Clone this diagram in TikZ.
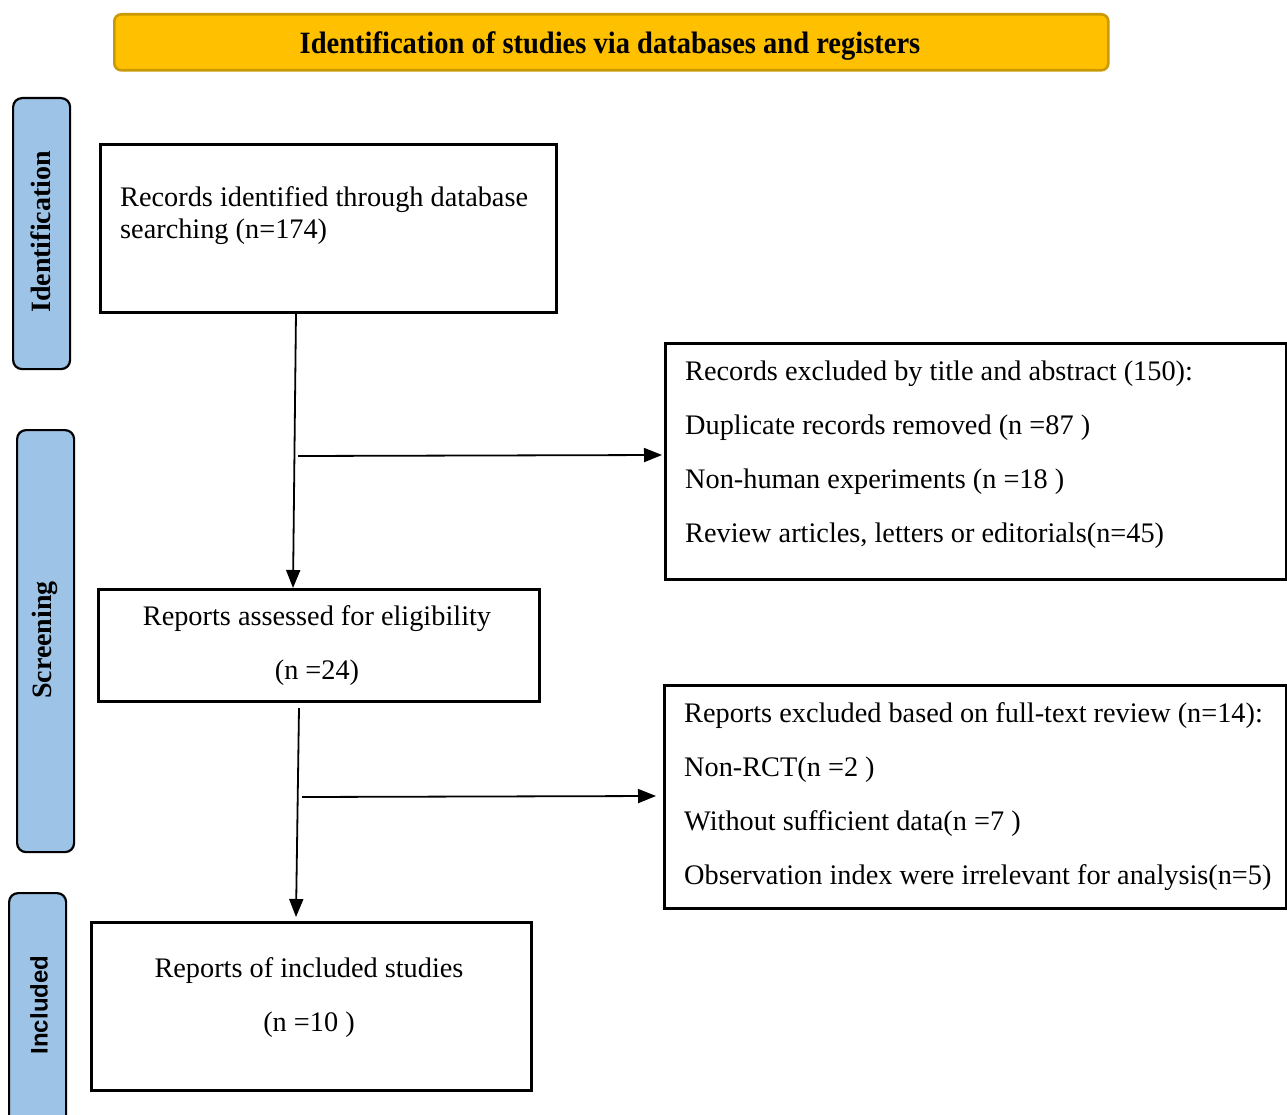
\documentclass[tikz,border=0pt]{standalone}
\usepackage{fontspec}
\setmainfont{Liberation Serif}
\newfontfamily\labsans{Liberation Sans}
\newfontfamily\bannerfont[FakeStretch=0.92]{Liberation Serif}
\usetikzlibrary{arrows.meta}
\definecolor{bannerfill}{HTML}{FFC000}
\definecolor{bannerdraw}{HTML}{C99A06}
\definecolor{sidefill}{HTML}{9DC3E6}
\tikzset{
  flowbox/.style={draw=black, line width=2.6pt, anchor=north west, inner sep=0pt, fill=white},
  sidebox/.style={draw=black, fill=sidefill, line width=2.2pt, rounded corners=9pt, anchor=north west, inner sep=0pt},
  txt/.style={anchor=base west, inner sep=0pt, font=\fontsize{28.3}{32}\selectfont},
  ctxt/.style={anchor=base, inner sep=0pt, font=\fontsize{28.3}{32}\selectfont},
  sidetxt/.style={rotate=90, inner sep=0pt, font=\bfseries\fontsize{28}{32}\selectfont},
  flow/.style={line width=1.8pt, -{Triangle[length=18pt,width=14pt]}},
}
\begin{document}
\begin{tikzpicture}[x=1pt,y=-1pt]
\useasboundingbox[fill=white] (0,0) rectangle (1287,1115);
\clip (0,0) rectangle (1287,1115);

% banner
\node[draw=bannerdraw, fill=bannerfill, line width=2.6pt, rounded corners=7pt,
      anchor=north west, inner sep=0pt, minimum width=994pt, minimum height=56pt] (banner) at (113,13) {};
\node[anchor=base, inner sep=0pt, font=\bannerfont\bfseries\fontsize{31}{34}\selectfont] (bannertxt) at (610,54)
  {Identification of studies via databases and registers};

% side labels
\node[sidebox, minimum width=57pt, minimum height=271pt] (sideid) at (12,97) {};
\node[sidetxt] (sideidtxt) at (41,232) {Identification};
\node[sidebox, minimum width=57pt, minimum height=422pt] (sidescr) at (16,429) {};
\node[sidetxt] (sidescrtxt) at (45,640) {Screening};
\node[sidebox, minimum width=57pt, minimum height=260pt] (sideinc) at (8,892) {};
\node[rotate=90, inner sep=0pt, font=\labsans\bfseries\fontsize{24}{28}\selectfont] (sideinctxt) at (39,1005) {Included};

% main boxes
\node[flowbox, minimum width=456pt, minimum height=168pt] (b1) at (99,143) {};
\node[txt] (b1l1) at (120,207) {Records identified through database};
\node[txt] (b1l2) at (120,239) {searching (n=174)};

\node[flowbox, minimum width=441pt, minimum height=112pt] (b2) at (97,588) {};
\node[ctxt] (b2l1) at (317,625) {Reports assessed for eligibility};
\node[ctxt] (b2l2) at (317,679) {(n =24)};

\node[flowbox, minimum width=440pt, minimum height=168pt] (b3) at (90,921) {};
\node[ctxt] (b3l1) at (309,977) {Reports of included studies};
\node[ctxt] (b3l2) at (309,1031) {(n =10 )};

% exclusion boxes
\node[flowbox, minimum width=621pt, minimum height=236pt] (e1) at (664,342) {};
\node[txt] (e1l1) at (685,380) {Records excluded by title and abstract (150):};
\node[txt] (e1l2) at (685,434) {Duplicate records removed (n =87 )};
\node[txt] (e1l3) at (685,488) {Non-human experiments (n =18 )};
\node[txt] (e1l4) at (685,542) {Review articles, letters or editorials(n=45)};

\node[flowbox, minimum width=622pt, minimum height=223pt] (e2) at (663,684) {};
\node[txt] (e2l1) at (684,722) {Reports excluded based on full-text review (n=14):};
\node[txt] (e2l2) at (684,776) {Non-RCT(n =2 )};
\node[txt] (e2l3) at (684,830) {Without sufficient data(n =7 )};
\node[txt] (e2l4) at (684,884) {Observation index were irrelevant for analysis(n=5)};

% connectors
\coordinate (v1s) at (296,312);
\coordinate (v1e) at (293,588);
\coordinate (h1s) at (298,456);
\coordinate (h1e) at (662,455);
\coordinate (v2s) at (299,708);
\coordinate (v2e) at (296,917);
\coordinate (h2s) at (302,797);
\coordinate (h2e) at (656,796);
\draw[flow] (v1s) -- (v1e);
\draw[flow] (h1s) -- (h1e);
\draw[flow] (v2s) -- (v2e);
\draw[flow] (h2s) -- (h2e);
\end{tikzpicture}
\end{document}
